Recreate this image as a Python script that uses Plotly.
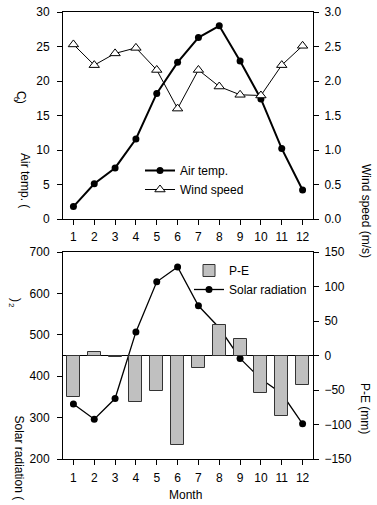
import plotly.graph_objects as go

months = list(range(1, 13))
air_temp = [1.8, 5.1, 7.4, 11.6, 18.2, 22.7, 26.3, 28.0, 22.9, 17.4, 10.2, 4.2]
wind_speed = [2.53, 2.23, 2.40, 2.48, 2.16, 1.60, 2.16, 1.92, 1.80, 1.79, 2.23, 2.51]
p_minus_e = [-60, 5, -1.5, -67, -51, -130, -17.5, 44, 24, -55, -87, -43]
solar_rad = [333, 296, 346, 507, 628, 664, 570, 517, 443, 393, 358, 285]

FONT = "Liberation Sans, Arial, sans-serif"
W, H = 377, 505
ML, MR, MT, MB = 63, 64, 12, 46
PW = W - ML - MR
PH = H - MT - MB


def px(x):
    return (x - ML) / PW


def py(y):
    return (H - MB - y) / PH


fig = go.Figure()

fig.add_trace(go.Scatter(
    x=months, y=air_temp, name="Air temp.", mode="lines+markers",
    line=dict(color="black", width=2), marker=dict(symbol="circle", size=7, color="black"),
    xaxis="x", yaxis="y", legend="legend"))
fig.add_trace(go.Scatter(
    x=months, y=wind_speed, name="Wind speed", mode="lines+markers",
    line=dict(color="black", width=1),
    marker=dict(symbol="triangle-up", size=9, color="white", line=dict(color="black", width=1)),
    xaxis="x", yaxis="y2", legend="legend"))

fig.add_trace(go.Bar(
    x=months, y=p_minus_e, name="P-E", width=0.62,
    marker=dict(color="#c0c0c0", line=dict(color="#333333", width=1)),
    xaxis="x2", yaxis="y4", legend="legend2"))
fig.add_trace(go.Scatter(
    x=months, y=solar_rad, name="Solar radiation", mode="lines+markers",
    line=dict(color="black", width=1.3), marker=dict(symbol="circle", size=7, color="black"),
    xaxis="x2", yaxis="y3", legend="legend2"))

top_dom = [py(219), 1.0]
bot_dom = [0.0, py(252)]

common_ax = dict(showline=True, linecolor="black", linewidth=1, ticks="outside",
                 ticklen=5, tickcolor="black", tickwidth=1, showgrid=False,
                 zeroline=False, automargin=False,
                 tickfont=dict(family=FONT, size=12, color="black"))

fig.update_layout(
    width=W, height=H, margin=dict(l=ML, r=MR, t=MT, b=MB, autoexpand=False),
    paper_bgcolor="white", plot_bgcolor="white",
    font=dict(family=FONT, size=12, color="black"),
    bargap=0,
    xaxis=dict(common_ax, domain=[0, 1], range=[0.5, 12.5], tickvals=months,
               anchor="y", mirror=True, ticklabelstandoff=2),
    yaxis=dict(common_ax, domain=top_dom, range=[0, 30], dtick=5, anchor="x",
               ticklabelstandoff=5),
    yaxis2=dict(common_ax, domain=top_dom, range=[0, 3], dtick=0.5, tickformat=".1f",
                overlaying="y", side="right", anchor="x", ticklabelstandoff=3),
    xaxis2=dict(common_ax, domain=[0, 1], range=[0.5, 12.5], tickvals=months,
                anchor="y3", mirror=True, ticklabelstandoff=3),
    yaxis3=dict(common_ax, domain=bot_dom, range=[200, 700], dtick=100, anchor="x2",
                ticklabelstandoff=5),
    yaxis4=dict(common_ax, domain=bot_dom, range=[-150, 150], dtick=50,
                overlaying="y3", side="right", anchor="x2", ticklabelstandoff=3,
                zeroline=True, zerolinecolor="black", zerolinewidth=1),
    showlegend=True,
    legend=dict(x=px(140), y=py(156), xanchor="left", yanchor="top",
                bgcolor="rgba(0,0,0,0)", font=dict(family=FONT, size=12),
                traceorder="normal", itemwidth=30, tracegroupgap=0),
    legend2=dict(x=px(189), y=py(256), xanchor="left", yanchor="top",
                 bgcolor="rgba(0,0,0,0)", font=dict(family=FONT, size=12),
                 traceorder="normal", itemwidth=30, tracegroupgap=0),
)

ann = []


def add_text(text, x, y, size=12, angle=90, xanchor="center", yanchor="middle"):
    ann.append(dict(text=text, x=px(x), y=py(y), xref="paper", yref="paper",
                    showarrow=False, textangle=angle, xanchor=xanchor, yanchor=yanchor,
                    font=dict(family=FONT, size=size, color="black")))


add_text("Air temp. (", 25, 180)
add_text("C)", 21, 97)
add_text("o", 17, 99, size=8)
add_text("Solar radiation (", 19, 413, yanchor="top")
add_text(")", 16, 300)
add_text("2", 12, 305, size=8)
add_text("Wind speed (m/s)", 366, 211)
add_text("P-E (mm)", 365, 408)
add_text("Month", 185, 495, angle=0)

fig.update_layout(annotations=ann)

fig.write_html("out.html")
